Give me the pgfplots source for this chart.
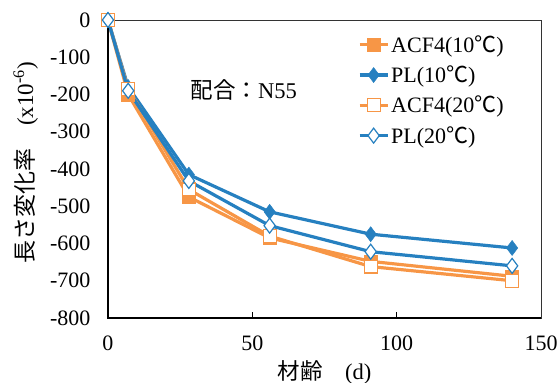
\documentclass[border=0pt]{standalone}
\usepackage{fontspec}
\setmainfont{Liberation Serif}
\newfontfamily\cjk{Noto Sans CJK JP}
\usepackage{pgfplots}
\pgfplotsset{compat=1.18}
\definecolor{cor}{RGB}{247,150,70}
\definecolor{cbl}{RGB}{38,128,192}
\begin{document}
\begin{tikzpicture}
\path[use as bounding box] (-108pt,-65pt) rectangle (452pt,318pt);
\begin{axis}[
  at={(0pt,0pt)}, anchor=south west,
  scale only axis, width=433pt, height=298pt,
  xmin=0, xmax=150, ymin=-800, ymax=0,
  xtick={0,50,100,150},
  ytick={-800,-700,-600,-500,-400,-300,-200,-100,0},
  yticklabels={-800,-700,-600,-500,-400,-300,-200,-100,0},
  xticklabels={0,50,100,150},
  tick align=inside,
  major tick length=6pt,
  x tick style={black, line width=0.8pt},
  y tick style={draw=none},
  xtick pos=bottom, ytick pos=left,
  axis line style={black!80, line width=0.8pt},
  tick label style={font=\fontsize{22}{26}\selectfont},
  xticklabel style={yshift=-14pt},
  yticklabel style={xshift=-14pt},
  xlabel={{\cjk 材齢}\quad (d)},
  xlabel style={font=\fontsize{22.5}{26}\selectfont, at={(axis description cs:0.5,0)}, anchor=base, yshift=-61pt},
  ylabel={{\cjk 長さ変化率}\quad(x10\textsuperscript{-6})},
  ylabel style={font=\fontsize{23}{27}\selectfont, at={(axis description cs:-0.19,0.52)}, anchor=center},
  clip=false,
  legend style={draw=none, fill=none, at={(rel axis cs:0.577,0.955)}, anchor=north west,
    font=\fontsize{22}{26}\selectfont, row sep=8pt, inner sep=0pt},
  legend cell align=left,
  legend image code/.code={\draw[mark repeat=2,mark phase=2] plot coordinates {(0pt,0pt)(14pt,0pt)(28pt,0pt)};},
]
\addplot[cor, line width=3.2pt, mark=square*, mark size=6.5pt, mark options={solid, line width=0.5pt, fill=cor}]
  coordinates {(0,0)(7,-200)(28,-475)(56,-585)(91,-648)(140,-688)};
\addlegendentry{ACF4(10{\cjk ℃})}
\addplot[cbl, line width=3.2pt, mark=diamond*, mark size=7.5pt, mark options={solid, line width=0.5pt, fill=cbl}]
  coordinates {(0,0)(7,-180)(28,-415)(56,-515)(91,-575)(140,-612)};
\addlegendentry{PL(10{\cjk ℃})}
\addplot[cor, line width=3.2pt, mark=square*, mark size=6.5pt, mark options={solid, line width=1.2pt, fill=white}]
  coordinates {(0,0)(7,-185)(28,-455)(56,-580)(91,-662)(140,-700)};
\addlegendentry{ACF4(20{\cjk ℃})}
\addplot[cbl, line width=3.2pt, mark=diamond*, mark size=7.5pt, mark options={solid, line width=1.2pt, fill=white}]
  coordinates {(0,0)(7,-190)(28,-432)(56,-552)(91,-622)(140,-660)};
\addlegendentry{PL(20{\cjk ℃})}
\draw[black, line width=2.2pt] (rel axis cs:0,1) -- (rel axis cs:0,0) -- (rel axis cs:1,0);
\node[font=\fontsize{22.5}{26}\selectfont, anchor=center] at (axis cs:47,-188) {{\cjk 配合：}N55};
\end{axis}
\end{tikzpicture}
\end{document}
